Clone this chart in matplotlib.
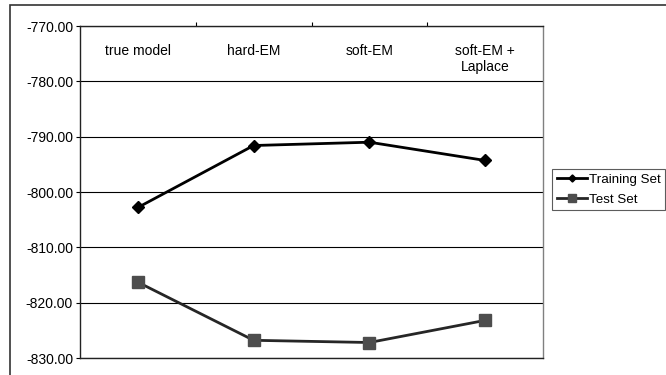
import matplotlib
matplotlib.use("Agg")
import matplotlib.pyplot as plt
from matplotlib.patches import Rectangle

plt.rcParams['font.family'] = ['Liberation Sans', 'DejaVu Sans']

categories = ["true model", "hard-EM", "soft-EM", "soft-EM +\nLaplace"]
training = [-802.8, -791.6, -791.0, -794.3]
test = [-816.3, -826.8, -827.2, -823.2]
yticks = [-770, -780, -790, -800, -810, -820, -830]

W, H = 666, 375
fs = 10
fig = plt.figure(figsize=(W / 100, H / 100), dpi=100)

# outer chart frame (clipped at right and bottom like the original)
fig.patches.append(Rectangle((10 / W, -0.05), 1.0, 1 - 5 / H + 0.05,
                             transform=fig.transFigure, fill=False,
                             edgecolor="#333333", linewidth=1.2))

ax = fig.add_axes([80 / W, 1 - 358 / H, 463 / W, 332 / H])
x = list(range(len(categories)))

ax.plot(x, training, color="black", linewidth=2, marker="D", markersize=6,
        label="Training Set", zorder=3)
ax.plot(x, test, color="#262626", linewidth=2, marker="s", markersize=9,
        markerfacecolor="#4d4d4d", markeredgecolor="#4d4d4d",
        label="Test Set", zorder=3)

ax.set_xlim(-0.5, len(categories) - 0.5)
ax.set_ylim(-830, -770)
ax.set_yticks(yticks)
ax.set_yticklabels([f"{v:.2f}" for v in yticks], fontsize=fs)
ax.yaxis.grid(True, color="black", linewidth=0.8)
ax.set_axisbelow(True)
ax.tick_params(axis="y", direction="out", length=3, width=0.8, pad=2)

# category axis at the top, ticks between categories
ax.xaxis.tick_top()
ax.set_xticks([i + 0.5 for i in range(len(categories) - 1)])
ax.set_xticklabels([])
ax.tick_params(axis="x", direction="out", length=3, width=0.8)
for i, c in enumerate(categories):
    ax.text(i, -773.3, c, ha="center", va="top", fontsize=fs, linespacing=1.2)

for s in ["top", "left", "bottom"]:
    ax.spines[s].set_color("#222222")
    ax.spines[s].set_linewidth(1.0)
ax.spines["right"].set_color("#808080")
ax.spines["right"].set_linewidth(1.0)

leg = fig.legend(loc="upper left", bbox_to_anchor=(552 / W, 1 - 169 / H),
                 prop={"size": 9.6}, frameon=True, fancybox=False,
                 borderpad=0.35, handlelength=2.3, handletextpad=0.1,
                 labelspacing=0.55, borderaxespad=0, markerscale=0.6)
leg.get_frame().set_edgecolor("#333333")
leg.get_frame().set_linewidth(0.8)

fig.savefig("out.png", dpi=100)
